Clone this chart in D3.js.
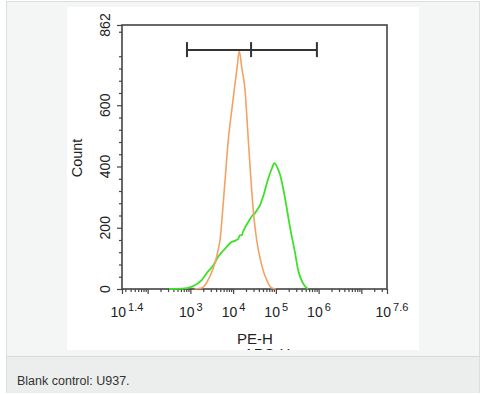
<!DOCTYPE html>
<html>
<head>
<meta charset="utf-8">
<script src="https://cdn.jsdelivr.net/npm/d3@7"></script>
<style>
  body { margin: 0; background: #fff; }
  svg text { font-family: "Liberation Sans", Arial, sans-serif; fill: #222; }
</style>
</head>
<body>
<svg id="chart" width="481" height="394"></svg>
<script>
// log10 of PE-H values and counts
const blankLog = [3.1, 3.265, 3.34, 3.412, 3.49, 3.559, 3.63, 3.693, 3.793, 3.887, 3.96, 4.027, 4.09, 4.144, 4.2, 4.278, 4.355, 4.434, 4.49, 4.551, 4.668, 4.786, 4.902, 5.0]
const blankCount = [0, 3, 12, 29, 52, 78, 115, 160, 323, 487, 575, 650, 720, 777, 725, 650, 487, 323, 230, 160, 78, 29, 3, 0]

const sampleLog = [2.5, 2.8, 3.04, 3.265, 3.4, 3.54, 3.65, 3.76, 3.85, 3.93, 4.05, 4.12, 4.16, 4.2, 4.23, 4.35, 4.45, 4.51, 4.56, 4.63, 4.72, 4.79, 4.91, 4.963, 5.04, 5.1, 5.21, 5.33, 5.45, 5.52, 5.63, 5.75]
const sampleCount = [0, 1, 8, 29, 55, 78, 105, 124, 138, 150, 158, 164, 176, 175, 186, 218, 240, 247, 258, 274, 310, 346, 395, 411, 395, 372, 300, 202, 117, 62, 20, 0]

const xLabelExps = ['1.4', '3', '4', '5', '6', '7.6']
const xMajorExps = [1.4, 2, 3, 4, 5, 6, 7, 7.6]
const yMajor = [0, 200, 400, 600, 862]
const gateLog = [2.92, 4.42, 5.96]
const gateCount = 780

const svg = d3.select('#chart')

// page frame
svg.append('rect').attr('x', 6.5).attr('y', 1.5).attr('width', 473).attr('height', 391)
  .attr('fill', '#f4f5f5').attr('stroke', '#dcdede')
svg.append('rect').attr('x', 7).attr('y', 357).attr('width', 472).attr('height', 36)
  .attr('fill', '#eceeee')
svg.append('line').attr('x1', 7).attr('x2', 479).attr('y1', 356.5).attr('y2', 356.5)
  .attr('stroke', '#d8dada')
svg.append('rect').attr('x', 67).attr('y', 7).attr('width', 352).attr('height', 343)
  .attr('fill', '#fff')

svg.append('text').attr('x', 17).attr('y', 385)
  .style('font-size', '12.5px').style('fill', '#333')
  .text('Blank control: U937.')

const x = d3.scaleLog().domain([10 ** 1.4, 10 ** 7.6]).range([122, 387])
const y = d3.scaleLinear().domain([0, 862]).range([289, 25])

// minor ticks
const xMinor = []
for (let e = 1; e <= 7; e++) {
  for (let k = 2; k <= 9; k++) {
    const v = k * 10 ** e
    if (v > 10 ** 1.4 && v < 10 ** 7.6) xMinor.push(v)
  }
}
const yMinor = d3.range(40, 862, 40).filter(v => v % 200 !== 0)

const gx = svg.append('g').attr('transform', 'translate(0,289)')
gx.call(d3.axisBottom(x).tickValues(xMinor).tickSize(3).tickFormat(''))
gx.append('g').call(d3.axisBottom(x).tickValues(xMajorExps.map(e => 10 ** e)).tickSize(5).tickFormat(''))
gx.selectAll('path.domain').remove()

const gy = svg.append('g').attr('transform', 'translate(122,0)')
gy.call(d3.axisLeft(y).tickValues(yMinor).tickSize(3).tickFormat(''))
gy.append('g').call(d3.axisLeft(y).tickValues(yMajor).tickSize(5).tickFormat(''))
gy.selectAll('path.domain').remove()
svg.selectAll('.tick line').attr('stroke', '#444').attr('stroke-width', 1.2)

// plot box
svg.append('rect').attr('x', 122).attr('y', 25).attr('width', 265).attr('height', 264)
  .attr('fill', 'none').attr('stroke', '#444').attr('stroke-width', 1.6)

// x tick labels
xLabelExps.forEach(e => {
  const t = svg.append('text').attr('x', x(10 ** +e) - 11.5).attr('y', 316.5)
    .style('font-size', '14px')
  t.append('tspan').text('10')
  t.append('tspan').attr('dx', 2).attr('dy', -5.5).style('font-size', '11px').text(e)
})

// y tick labels
yMajor.forEach(v => {
  svg.append('text')
    .attr('transform', `translate(110,${y(v)}) rotate(-90)`)
    .attr('text-anchor', 'middle')
    .style('font-size', '14px')
    .text(v)
})

svg.append('text').attr('transform', 'translate(82,158) rotate(-90)')
  .attr('text-anchor', 'middle').style('font-size', '14.5px').text('Count')
svg.append('text').attr('x', 255).attr('y', 343.5).attr('text-anchor', 'middle')
  .style('font-size', '15px').text('PE-H')

// second label of the figure, cut off by the image edge
svg.append('clipPath').attr('id', 'imgclip')
  .append('rect').attr('x', 67).attr('y', 7).attr('width', 352).attr('height', 343)
svg.append('text').attr('clip-path', 'url(#imgclip)')
  .attr('x', 267).attr('y', 358.5).attr('text-anchor', 'middle')
  .style('font-size', '15px').text('APC-H')

// histograms
const line = d3.line()
  .x(d => x(10 ** d[0]))
  .y(d => y(d[1]))
  .curve(d3.curveMonotoneX)

svg.append('path')
  .datum(d3.zip(sampleLog, sampleCount))
  .attr('fill', 'none').attr('stroke', '#3ee02a').attr('stroke-width', 1.8)
  .attr('d', line)

svg.append('path')
  .datum(d3.zip(blankLog, blankCount))
  .attr('fill', 'none').attr('stroke', '#f4a264').attr('stroke-width', 1.6)
  .attr('d', line)

// gate marker
const gate = svg.append('g').attr('stroke', '#333').attr('stroke-width', 2)
gate.append('line')
  .attr('x1', x(10 ** gateLog[0])).attr('x2', x(10 ** gateLog[2]))
  .attr('y1', y(gateCount)).attr('y2', y(gateCount))
gate.selectAll('line.cap')
  .data(gateLog)
  .join('line')
  .attr('class', 'cap')
  .attr('x1', d => x(10 ** d)).attr('x2', d => x(10 ** d))
  .attr('y1', y(gateCount) - 8).attr('y2', y(gateCount) + 7)
</script>
</body>
</html>
